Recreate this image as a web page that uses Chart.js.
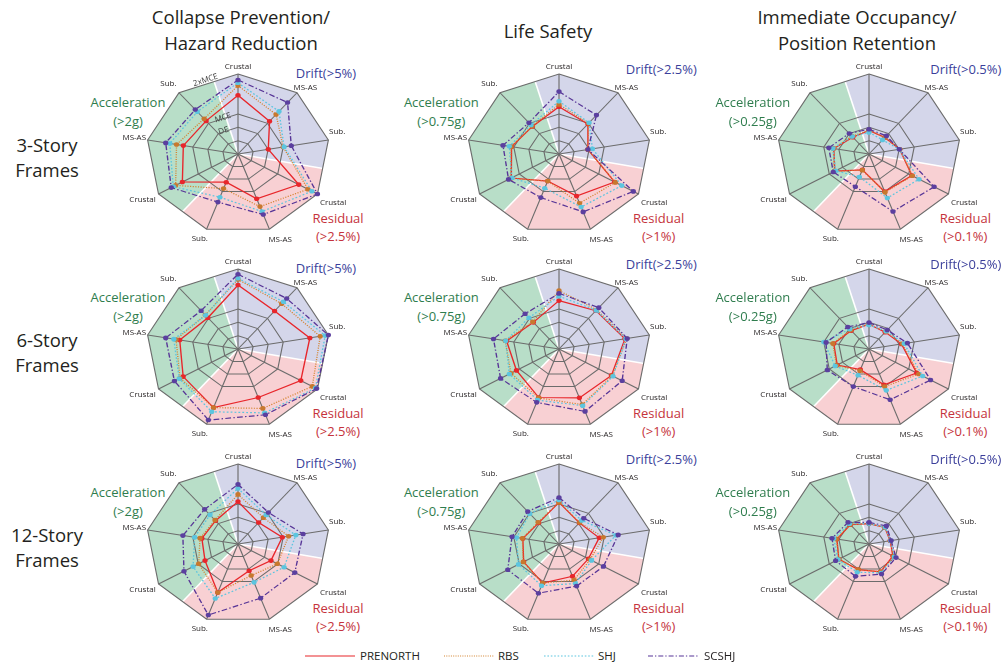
<!DOCTYPE html>
<html>
<head>
<meta charset="utf-8">
<title>Seismic performance radar charts</title>
<script src="https://cdn.jsdelivr.net/npm/chart.js@4.4.0/dist/chart.umd.min.js"></script>
<style>
  html, body { margin: 0; padding: 0; background: #ffffff; }
  body { width: 1006px; height: 667px; position: relative; overflow: hidden;
         font-family: "Open Sans", "Noto Sans", sans-serif; color: #231f20; }
  canvas { position: absolute; }
  .t { position: absolute; white-space: nowrap; transform: translate(-50%, -50%); line-height: 1; }
  .title { font-size: 18.5px; }
  .row { font-size: 18.5px; }
  .grp { font-size: 13px; }
  .drift { color: #3b3f9b; }
  .acc { color: #2f7d4e; }
  .res { color: #c5333c; }
  .leg { position: absolute; font-size: 11.5px; line-height: 1; transform: translateY(-50%); white-space: nowrap; }
  svg.key { position: absolute; overflow: visible; }
</style>
</head>
<body>
<script>
// ---- axes and series ----
const axisLabels = ['Crustal', 'MS-AS', 'Sub.', 'Crustal', 'MS-AS', 'Sub.', 'Crustal', 'MS-AS', 'Sub.'];
const seriesNames = ['PRENORTH', 'RBS', 'SHJ', 'SCSHJ'];
// radial grid rings, intensity as a multiple of the MCE level
const ringTicks = [0, 1 / 3, 2 / 3, 1, 2];
const hazardNames = ['DE', 'MCE', '2xMCE'];
const hazardLevels = [2 / 3, 1, 2];

const columnTitles = [['Collapse Prevention/', 'Hazard Reduction'], ['Life Safety'], ['Immediate Occupancy/', 'Position Retention']];
const rowTitles = [['3-Story', 'Frames'], ['6-Story', 'Frames'], ['12-Story', 'Frames']];
const driftLimits = ['Drift(>5%)', 'Drift(>2.5%)', 'Drift(>0.5%)'];
const accelLimits = ['(>2g)', '(>0.75g)', '(>0.25g)'];
const residualLimits = ['(>2.5%)', '(>1%)', '(>0.1%)'];

// ---- values per panel: rows are PRENORTH, RBS, SHJ, SCSHJ ----
const cp3 = [
  [1.47, 1.07, 0.67, 1.53, 1.19, 0.75, 1.40, 1.21, 1.08],
  [1.71, 1.29, 1.00, 1.76, 1.40, 0.92, 1.57, 1.36, 1.15],
  [1.78, 1.39, 1.02, 1.86, 1.53, 1.15, 1.63, 1.51, 1.38],
  [1.85, 1.68, 1.18, 2.00, 1.61, 1.28, 1.68, 1.60, 1.45]
];
const ls3 = [
  [1.18, 0.98, 0.64, 1.40, 1.12, 0.72, 1.20, 1.05, 0.90],
  [1.24, 1.00, 0.64, 1.42, 1.31, 0.72, 1.22, 1.06, 0.91],
  [1.32, 1.02, 0.74, 1.58, 1.41, 0.91, 1.19, 1.10, 0.95],
  [1.56, 1.27, 0.64, 1.87, 1.54, 1.16, 1.27, 1.24, 1.02]
];
const io3 = [
  [0.59, 0.54, 0.68, 1.08, 1.00, 0.42, 0.86, 0.78, 0.55],
  [0.59, 0.54, 0.68, 1.09, 1.02, 0.43, 0.87, 0.79, 0.58],
  [0.54, 0.46, 0.67, 1.26, 1.17, 0.61, 0.84, 0.80, 0.57],
  [0.62, 0.59, 0.67, 1.64, 1.53, 0.87, 0.90, 0.89, 0.67]
];
const cp6 = [
  [1.60, 1.24, 1.59, 1.58, 1.29, 1.56, 1.38, 1.29, 1.02],
  [1.74, 1.48, 1.82, 1.87, 1.58, 1.56, 1.46, 1.37, 1.11],
  [1.77, 1.54, 1.93, 1.95, 1.70, 1.67, 1.48, 1.42, 1.10],
  [1.87, 1.65, 2.00, 1.98, 1.75, 1.89, 1.60, 1.60, 1.25]
];
const ls6 = [
  [1.21, 1.25, 1.46, 1.32, 1.30, 1.29, 1.07, 1.16, 0.87],
  [1.46, 1.28, 1.50, 1.34, 1.48, 1.30, 1.21, 1.19, 0.89],
  [1.32, 1.26, 1.48, 1.36, 1.51, 1.36, 1.25, 1.18, 1.02],
  [1.39, 1.35, 1.51, 1.59, 1.66, 1.42, 1.47, 1.45, 1.15]
];
const io6 = [
  [0.62, 0.55, 0.72, 1.20, 0.95, 0.55, 0.80, 0.78, 0.60],
  [0.62, 0.57, 0.74, 1.25, 1.00, 0.58, 0.82, 0.80, 0.62],
  [0.60, 0.58, 0.78, 1.35, 1.10, 0.70, 0.85, 1.00, 0.65],
  [0.66, 0.62, 0.85, 1.55, 1.35, 1.00, 1.05, 0.95, 0.72]
];
const cp12 = [
  [1.06, 0.70, 0.98, 0.83, 0.71, 1.29, 0.83, 0.80, 0.76],
  [1.24, 0.86, 1.12, 0.99, 0.84, 1.29, 0.99, 0.84, 0.78],
  [1.39, 0.95, 1.28, 1.16, 1.02, 1.45, 1.13, 0.96, 0.95],
  [1.49, 1.03, 1.44, 1.43, 1.44, 1.89, 1.36, 1.22, 1.13]
];
const ls12 = [
  [1.04, 0.69, 0.89, 0.74, 0.86, 1.04, 0.89, 0.80, 0.69],
  [1.04, 0.70, 0.98, 0.78, 0.96, 1.04, 0.90, 0.81, 0.71],
  [1.10, 0.77, 1.26, 0.82, 1.05, 1.11, 1.02, 0.94, 0.99],
  [1.16, 0.84, 1.31, 1.12, 1.12, 1.31, 1.29, 1.04, 1.06]
];
const io12 = [
  [0.51, 0.54, 0.47, 0.60, 0.74, 0.68, 0.76, 0.71, 0.63],
  [0.51, 0.54, 0.47, 0.62, 0.74, 0.68, 0.76, 0.72, 0.64],
  [0.51, 0.55, 0.48, 0.64, 0.77, 0.75, 0.78, 0.78, 0.66],
  [0.54, 0.59, 0.49, 0.68, 0.80, 0.86, 0.84, 0.82, 0.71]
];
const panels = [[cp3, ls3, io3], [cp6, ls6, io6], [cp12, ls12, io12]];

// ---- styling ----
const lineColors = ['#e8262b', '#d3832f', '#5cc5df', '#573597'];
const markColors = ['#e8262b', '#c8782e', '#5cc5df', '#5b3f9f'];
const lineDashes = [[], [1, 1.3], [1.6, 1.8], [5, 2, 1.3, 2]];
const gridColor = '#6c6c6c';
// shaded groups: bearings in degrees clockwise from the top spoke
const sectors = [
  { from: -16, to: 101, color: '#d4d6ea' },  // drift
  { from: 101, to: 220, color: '#f8d0d3' },  // residual
  { from: 220, to: 344, color: '#b8dec8' }   // acceleration
];
const STRETCH = 1.147;                         // panels are drawn wider than tall
const colX = [238, 559.3, 868.8];
const rowY = [153.6, 348.6, 543.6];
const CW = 320, CH = 196, PADX = 80, PADY = 18;
const labelNudge = [[0, -7.5], [8.3, -5.3], [8.8, -8.8], [15.6, 8.3], [10.8, 10.9], [-6.8, 9.3], [-16, 5.3], [-13.4, -2.1], [-10.6, -9.3]];
const hazardAlong = [0.28, 0.5, 0.47];
const hazardLift = [-1, -1, -4];

const rad = d => d * Math.PI / 180;

const panelDecor = {
  id: 'panelDecor',
  beforeDraw(chart) {
    const s = chart.scales.r, ctx = chart.ctx;
    const cx = s.xCenter, cy = s.yCenter, R = s.drawingArea;
    ctx.save();
    ctx.translate(cx, cy); ctx.scale(STRETCH, 1); ctx.translate(-cx, -cy);
    ctx.save();
    ctx.beginPath();
    for (let i = 0; i < axisLabels.length; i++) {
      const p = s.getPointPosition(i, R);
      if (i === 0) ctx.moveTo(p.x, p.y); else ctx.lineTo(p.x, p.y);
    }
    ctx.closePath();
    ctx.clip();
    sectors.forEach(sec => {
      ctx.beginPath();
      ctx.moveTo(cx, cy);
      ctx.arc(cx, cy, R * 1.6, rad(sec.from - 90), rad(sec.to - 90));
      ctx.closePath();
      ctx.fillStyle = sec.color;
      ctx.fill();
    });
    ctx.strokeStyle = '#ffffff';
    ctx.lineWidth = 1.4;
    sectors.forEach(sec => {
      ctx.beginPath();
      ctx.moveTo(cx, cy);
      ctx.lineTo(cx + R * 1.6 * Math.cos(rad(sec.from - 90)), cy + R * 1.6 * Math.sin(rad(sec.from - 90)));
      ctx.stroke();
    });
    ctx.restore();
  },
  afterDraw(chart, args, opts) {
    const s = chart.scales.r, ctx = chart.ctx;
    ctx.restore();
    const cx = s.xCenter, cy = s.yCenter, R = s.drawingArea;
    const sx = x => cx + (x - cx) * STRETCH;
    ctx.save();
    ctx.fillStyle = '#231f20';
    ctx.font = '8px "Open Sans"';
    ctx.textAlign = 'center';
    ctx.textBaseline = 'middle';
    axisLabels.forEach((lab, i) => {
      const p = s.getPointPosition(i, R);
      ctx.fillText(lab, sx(p.x) + labelNudge[i][0], p.y + labelNudge[i][1]);
    });
    if (opts.hazard) {
      ctx.fillStyle = '#3a3a3a';
      hazardNames.forEach((name, k) => {
        const d = s.getDistanceFromCenterForValue(hazardLevels[k]);
        const a = s.getPointPosition(axisLabels.length - 1, d);
        const b = s.getPointPosition(0, d);
        const ax = sx(a.x), bx = sx(b.x);
        const t = hazardAlong[k];
        const x = ax + (bx - ax) * t, y = a.y + (b.y - a.y) * t;
        const ang = Math.atan2(b.y - a.y, bx - ax);
        ctx.save();
        ctx.translate(x, y);
        ctx.rotate(ang);
        ctx.fillText(name, 0, hazardLift[k]);
        ctx.restore();
      });
    }
    ctx.restore();
  }
};

function addText(cls, text, x, y) {
  const d = document.createElement('div');
  d.className = 't ' + cls;
  d.textContent = text;
  d.style.left = x + 'px';
  d.style.top = y + 'px';
  document.body.appendChild(d);
}

// column and row headings
const titleX = [241, 548, 857];
columnTitles.forEach((lines, c) => {
  if (lines.length === 2) { addText('title', lines[0], titleX[c], 17); addText('title', lines[1], titleX[c], 43); }
  else addText('title', lines[0], titleX[c], 31);
});
rowTitles.forEach((lines, r) => {
  addText('row', lines[0], 47, rowY[r] - 9);
  addText('row', lines[1], 47, rowY[r] + 16.5);
});

// group captions around each panel
const driftDx = [88, 102, 97], accDx = [-110, -118, -116], resDx = [100, 99.3, 96.5];
const driftDy = [-81, -84.5, -84.5];

panels.forEach((row, r) => {
  row.forEach((vals, c) => {
    const cx = colX[c], cy = rowY[r];
    addText('grp drift', driftLimits[c], cx + driftDx[c], cy + driftDy[c]);
    addText('grp acc', 'Acceleration', cx + accDx[c], cy - 51.5);
    addText('grp acc', accelLimits[c], cx + accDx[c], cy - 33);
    addText('grp res', 'Residual', cx + resDx[c], cy + 64);
    addText('grp res', residualLimits[c], cx + resDx[c], cy + 82.5);

    const cv = document.createElement('canvas');
    cv.width = CW; cv.height = CH;
    cv.style.width = CW + 'px'; cv.style.height = CH + 'px';
    cv.style.left = (cx - CW / 2) + 'px';
    cv.style.top = (cy - PADY - 80) + 'px';
    document.body.appendChild(cv);

    new Chart(cv.getContext('2d'), {
      type: 'radar',
      data: {
        labels: axisLabels,
        datasets: seriesNames.map((name, k) => ({
          label: name,
          data: vals[k],
          borderColor: lineColors[k],
          borderWidth: 1.2,
          borderDash: lineDashes[k],
          backgroundColor: 'transparent',
          fill: false,
          tension: 0,
          pointRadius: 2.3,
          pointBorderWidth: 0,
          pointBackgroundColor: markColors[k],
          pointBorderColor: markColors[k]
        })).reverse()
      },
      options: {
        responsive: false,
        animation: false,
        events: [],
        layout: { padding: { left: PADX, right: PADX, top: PADY, bottom: PADY } },
        plugins: { legend: { display: false }, tooltip: { enabled: false }, panelDecor: { hazard: r === 0 && c === 0 } },
        scales: {
          r: {
            min: 0, max: 2,
            startAngle: 0,
            afterBuildTicks: sc => { sc.ticks = ringTicks.map(v => ({ value: v })); },
            ticks: { display: false },
            grid: { color: gridColor, lineWidth: 1, circular: false },
            angleLines: { color: gridColor, lineWidth: 1 },
            pointLabels: { display: false }
          }
        }
      },
      plugins: [panelDecor]
    });
  });
});

// legend along the bottom
const keyX = [305, 444, 544, 648];
const keyTextX = [360, 498, 598, 704];
const keyY = 656;
seriesNames.forEach((name, k) => {
  const svg = document.createElementNS('http://www.w3.org/2000/svg', 'svg');
  svg.setAttribute('class', 'key');
  svg.setAttribute('width', 50); svg.setAttribute('height', 6);
  svg.style.left = keyX[k] + 'px'; svg.style.top = (keyY - 3) + 'px';
  const ln = document.createElementNS('http://www.w3.org/2000/svg', 'line');
  ln.setAttribute('x1', 0); ln.setAttribute('x2', 50);
  ln.setAttribute('y1', 3); ln.setAttribute('y2', 3);
  ln.setAttribute('stroke', lineColors[k]);
  ln.setAttribute('stroke-width', 1.1);
  if (lineDashes[k].length) ln.setAttribute('stroke-dasharray', lineDashes[k].join(' '));
  svg.appendChild(ln);
  document.body.appendChild(svg);
  const t = document.createElement('div');
  t.className = 'leg';
  t.textContent = name;
  t.style.left = keyTextX[k] + 'px';
  t.style.top = keyY + 'px';
  document.body.appendChild(t);
});
</script>
</body>
</html>
